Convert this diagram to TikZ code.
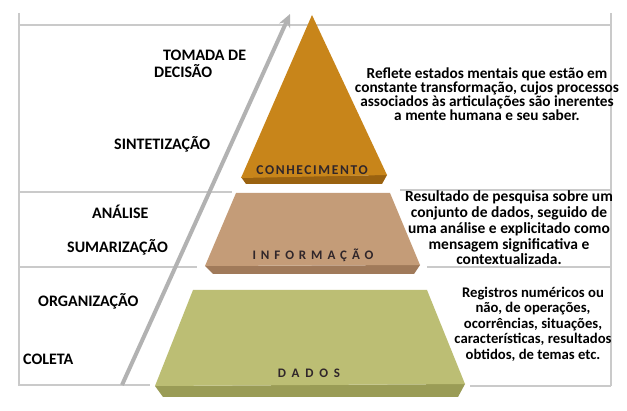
\documentclass[tikz,border=0pt]{standalone}
\usepackage{fontspec}
\setmainfont{Carlito}
\newfontfamily\lblfont[LetterSpace=12]{Carlito}
\newfontfamily\widefont[LetterSpace=38]{Carlito}
\newfontfamily\widerfont[LetterSpace=45]{Carlito}
\usetikzlibrary{arrows.meta}
\definecolor{conh}{HTML}{C8851A}
\definecolor{conhS}{HTML}{9A6210}
\definecolor{info}{HTML}{C49C78}
\definecolor{infoS}{HTML}{A07A5A}
\definecolor{dado}{HTML}{BCBE74}
\definecolor{dadoS}{HTML}{9A9C56}
\definecolor{gridc}{HTML}{CACACA}
\definecolor{arrowc}{HTML}{B2B2B2}
\definecolor{lbltxt}{HTML}{30262A}
\tikzset{
  gridline/.style={draw=gridc, line width=2pt},
  stagelbl/.style={font=\bfseries\fontsize{16}{18}\selectfont, anchor=west, inner sep=0pt},
  desc/.style={align=center, inner sep=0pt},
  pyrlbl/.style={text=lbltxt, inner sep=0pt},
}
\begin{document}
\begin{tikzpicture}[x=1pt,y=-1pt]
\useasboundingbox[fill=white] (0,0) rectangle (627,411);
% grid lines
\draw[gridline] (19,13) -- (19,386);
\draw[gridline] (611,13) -- (611,386);
\draw[gridline] (19,25) -- (611,25);
\draw[gridline] (19,192) -- (232,192);
\draw[gridline] (400,190) -- (611,190);
\draw[gridline] (19,267) -- (197,267);
\draw[gridline] (427,267) -- (611,267);
\draw[gridline] (19,385) -- (150,385);
\draw[gridline] (470,386) -- (611,386);
% arrow
\coordinate (a0) at (122,385);
\coordinate (a1) at (290,14);
\draw[arrowc, line width=4pt, -{Stealth[length=13pt,width=12pt]}] (a0) -- (a1);
% pyramid: conhecimento
\fill[conhS] (241,177) -- (387,175) -- (382,184) -- (246,184) -- cycle;
\fill[conh] (312,15) -- (387,175) -- (241,178) -- cycle;
% informacao
\fill[infoS] (205,266) -- (420,265) -- (414,274) -- (213,274) -- cycle;
\fill[info] (236,193) -- (390,193) -- (420,265) -- (205,266) -- cycle;
% dados
\fill[dadoS] (155,386) -- (465,384) -- (458,397) -- (163,397) -- cycle;
\fill[dado] (193,290) -- (427,290) -- (465,384) -- (155,386) -- cycle;
% pyramid labels
\node[pyrlbl, font=\lblfont\bfseries\fontsize{13.5}{15}\selectfont] (conhlbl) at (312,170) {CONHECIMENTO};
\node[pyrlbl, font=\widefont\bfseries\fontsize{13}{15}\selectfont] (infolbl) at (313,255) {INFORMAÇÃO};
\node[pyrlbl, font=\widerfont\bfseries\fontsize{13}{15}\selectfont] (dadolbl) at (309,373) {DADOS};
% stage labels
\node[stagelbl] (tom) at (163,55) {TOMADA DE};
\node[stagelbl] (dec) at (154,71) {DECISÃO};
\node[stagelbl] (sint) at (114,144) {SINTETIZAÇÃO};
\node[stagelbl] (anal) at (92,212) {ANÁLISE};
\node[stagelbl] (sum) at (67,247) {SUMARIZAÇÃO};
\node[stagelbl] (org) at (38,301) {ORGANIZAÇÃO};
\node[stagelbl] (col) at (23,359) {COLETA};
% descriptions
\node[desc, font=\bfseries\fontsize{15.3}{14}\selectfont] (d1) at (487,94) {Reflete estados mentais que estão em\\constante transformação, cujos processos\\associados às articulações são inerentes\\a mente humana e seu saber.};
\node[desc, font=\bfseries\fontsize{15.5}{15.8}\selectfont] (d2) at (509,228) {Resultado de pesquisa sobre um\\conjunto de dados, seguido de\\uma análise e explicitado como\\mensagem significativa e\\contextualizada.};
\node[desc, font=\bfseries\fontsize{14.7}{15.5}\selectfont] (d3) at (533,324) {Registros numéricos ou\\não, de operações,\\ocorrências, situações,\\características, resultados\\obtidos, de temas etc.};
\end{tikzpicture}
\end{document}
